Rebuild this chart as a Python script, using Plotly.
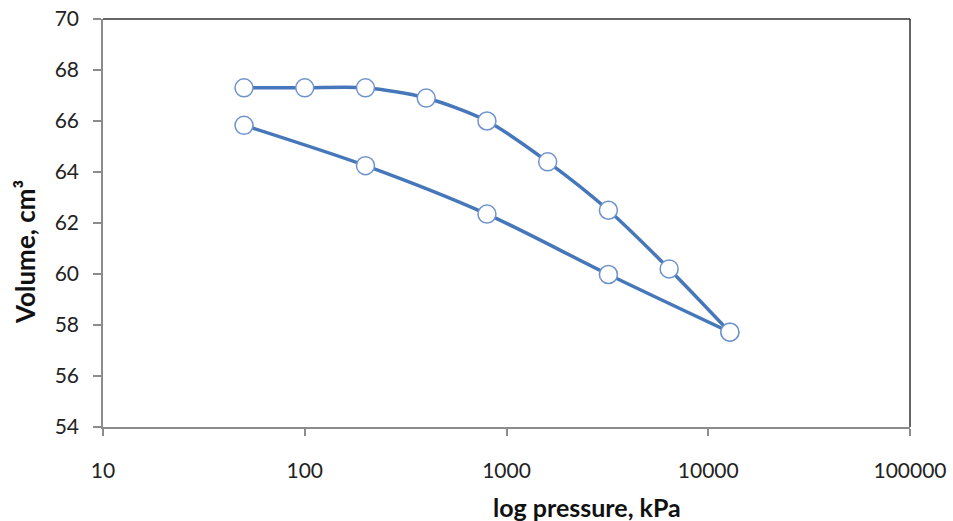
import plotly.graph_objects as go

load_p = [50, 100, 200, 400, 800, 1600, 3200, 6400, 12800]
load_v = [67.3, 67.3, 67.3, 66.9, 66.0, 64.4, 62.5, 60.2, 57.72]
unload_p = [12800, 3200, 800, 200, 50]
unload_v = [57.72, 59.98, 62.35, 64.25, 65.83]

x_ticks = [10, 100, 1000, 10000, 100000]
y_ticks = [54, 56, 58, 60, 62, 64, 66, 68, 70]

x_title = "<b>log pressure, kPa</b>"
y_title = "<b>Volume, cm³</b>"

line_color = "#4677BA"
marker = dict(size=18, color="white", line=dict(color="#6E93CC", width=1.5))

fig = go.Figure()
for xs, ys in [(load_p, load_v), (unload_p, unload_v)]:
    fig.add_trace(go.Scatter(
        x=xs, y=ys, mode="lines+markers",
        line=dict(color=line_color, width=3.5, shape="spline", smoothing=0.8),
        marker=marker, showlegend=False, cliponaxis=False,
    ))

font = "Lato, 'Open Sans', sans-serif"
fig.update_layout(
    width=953, height=521,
    margin=dict(l=103, r=43, t=19, b=94, autoexpand=False),
    paper_bgcolor="white", plot_bgcolor="white",
    font=dict(family=font, size=21, color="#222"),
    xaxis=dict(
        type="log", range=[1, 5], tickvals=x_ticks,
        ticktext=[str(v) for v in x_ticks],
        showgrid=False, zeroline=False, automargin=False,
        showline=True, linecolor="#8C8C8C", linewidth=1.5,
        ticks="outside", ticklen=7, tickcolor="#8C8C8C", tickwidth=1.5,
        ticklabelstandoff=17,
    ),
    yaxis=dict(
        range=[54, 70], tickvals=y_ticks,
        showgrid=False, zeroline=False, automargin=False,
        showline=True, linecolor="#8C8C8C", linewidth=1.5,
        ticks="outside", ticklen=8, tickcolor="#8C8C8C", tickwidth=1.5,
        ticklabelstandoff=10,
    ),
    annotations=[
        dict(text=x_title, xref="paper", yref="paper", x=0.600, y=-0.196,
             xanchor="center", yanchor="middle", showarrow=False,
             font=dict(size=25, family=font, color="#111")),
        dict(text=y_title, xref="paper", yref="paper", x=-0.0967, y=0.429,
             xanchor="center", yanchor="middle", showarrow=False, textangle=-90,
             font=dict(size=26, family=font, color="#111")),
    ],
    shapes=[
        dict(type="line", xref="paper", yref="paper", x0=0, x1=1, y0=1, y1=1,
             line=dict(color="#333", width=1.5)),
        dict(type="line", xref="paper", yref="paper", x0=1, x1=1, y0=0, y1=1,
             line=dict(color="#333", width=1.5)),
    ],
)

fig.write_html("out.html")
